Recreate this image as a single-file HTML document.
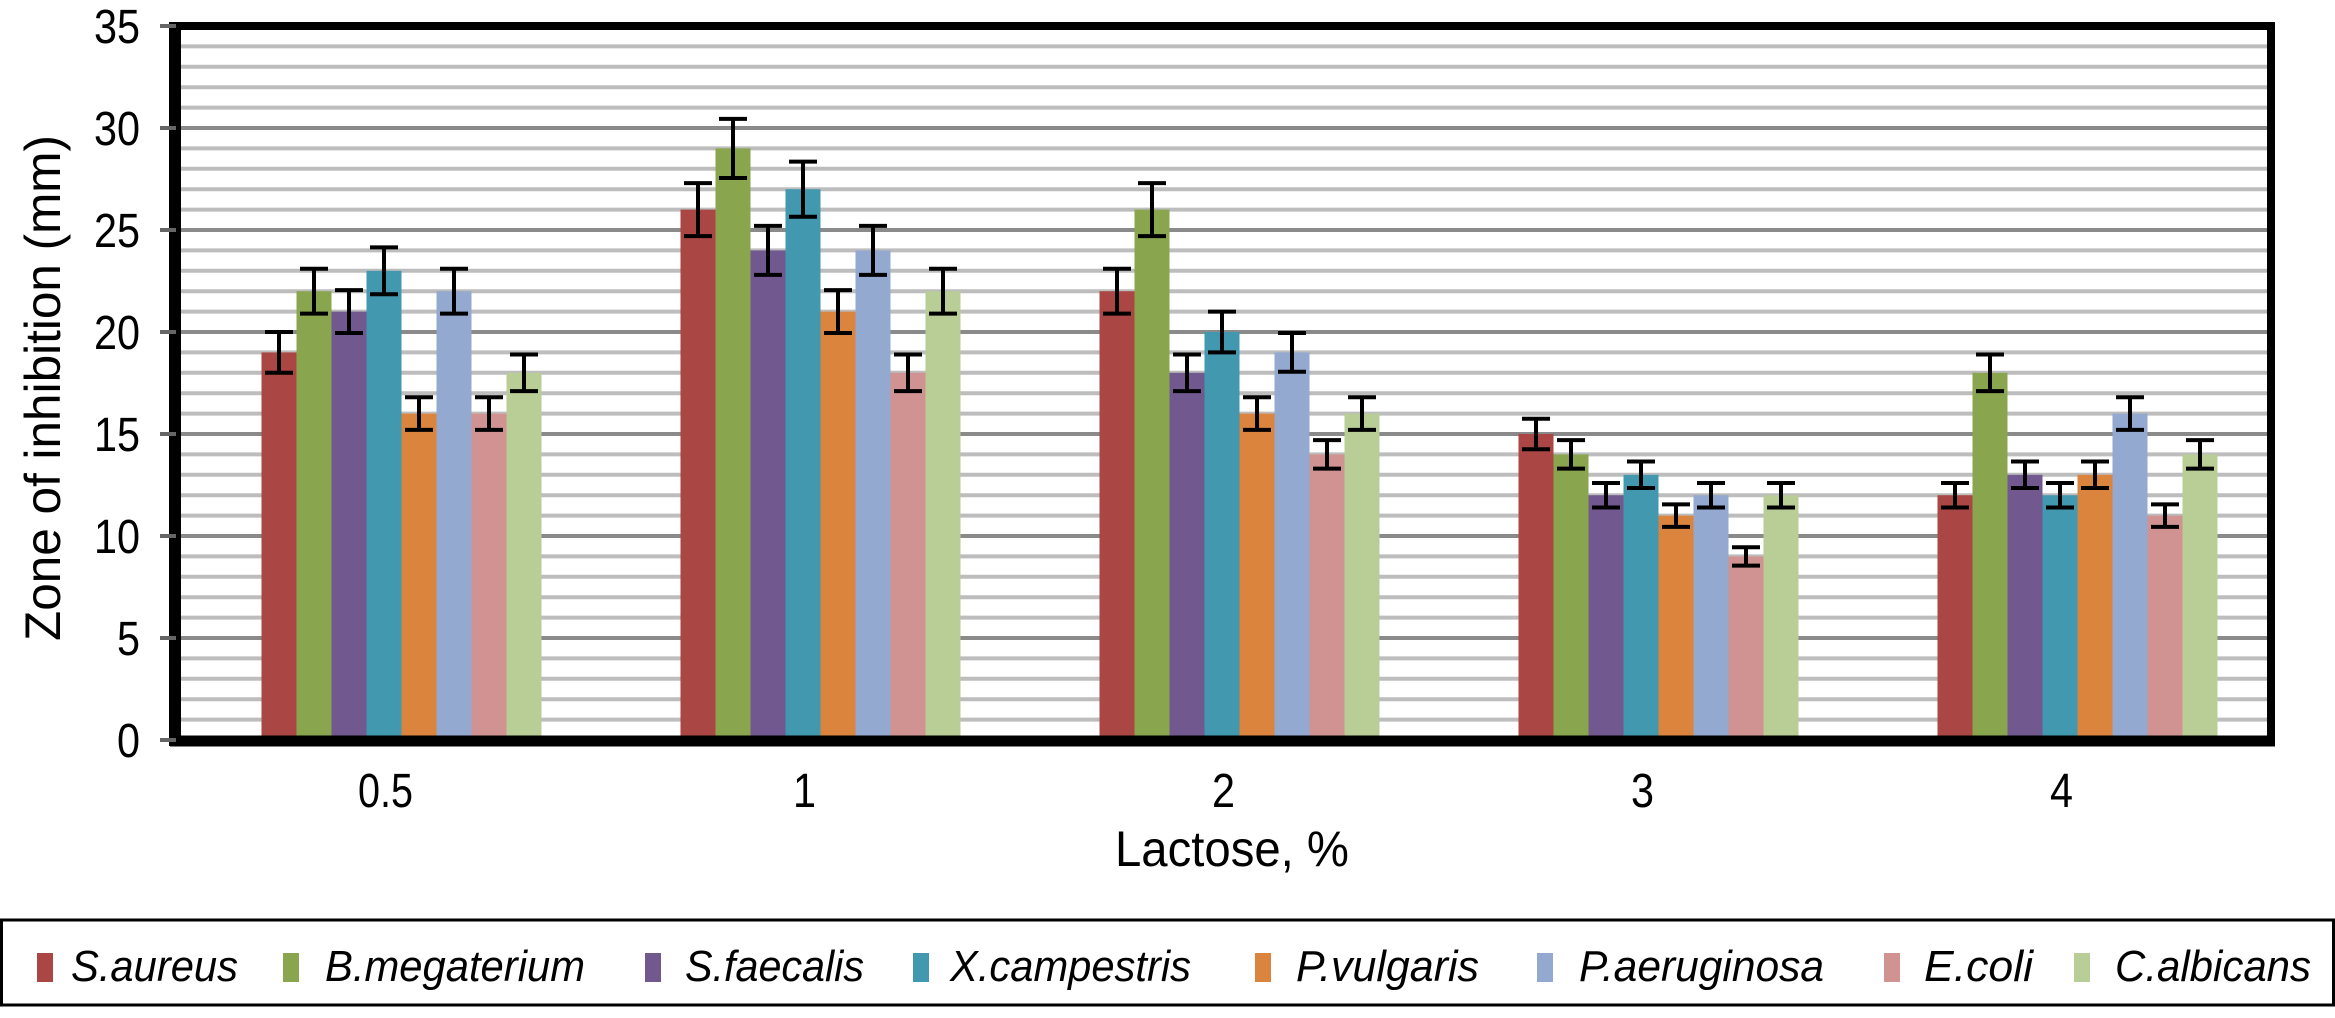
<!DOCTYPE html>
<html><head><meta charset="utf-8"><style>
html,body{margin:0;padding:0;background:#fff;}
svg{display:block;font-family:"Liberation Sans",Arial,sans-serif;}
</style></head><body>
<svg id="chart" width="2335" height="1018" viewBox="0 0 2335 1018" xmlns="http://www.w3.org/2000/svg">
<g id="grid"></g>
<g id="bars"></g>
<g id="errs"></g>
<g id="axes"></g>
<text x="1115" y="866" font-size="50" textLength="234" lengthAdjust="spacingAndGlyphs">Lactose, %</text>
<text transform="translate(60,388) rotate(-90)" font-size="50" text-anchor="middle" textLength="506" lengthAdjust="spacingAndGlyphs">Zone of inhibition (mm)</text>
<rect x="1.5" y="920" width="2332" height="85" fill="#fff" stroke="#000" stroke-width="3"/>
<g id="legend"></g>
</svg>
<script>
const categories = ["0.5","1","2","3","4"];
const seriesNames = ["S.aureus","B.megaterium","S.faecalis","X.campestris","P.vulgaris","P.aeruginosa","E.coli","C.albicans"];
const sAureus = [19,26,22,15,12];
const bMegaterium = [22,29,26,14,18];
const sFaecalis = [21,24,18,12,13];
const xCampestris = [23,27,20,13,12];
const pVulgaris = [16,21,16,11,13];
const pAeruginosa = [22,24,19,12,16];
const eColi = [16,18,14,9,11];
const cAlbicans = [18,22,16,12,14];
const errSAureus = [1.0,1.3,1.1,0.75,0.6];
const errBMegaterium = [1.1,1.45,1.3,0.7,0.9];
const errSFaecalis = [1.05,1.2,0.9,0.6,0.65];
const errXCampestris = [1.15,1.35,1.0,0.65,0.6];
const errPVulgaris = [0.8,1.05,0.8,0.55,0.65];
const errPAeruginosa = [1.1,1.2,0.95,0.6,0.8];
const errEColi = [0.8,0.9,0.7,0.45,0.55];
const errCAlbicans = [0.9,1.1,0.8,0.6,0.7];
const yTicks = [0,5,10,15,20,25,30,35];

const series = [sAureus,bMegaterium,sFaecalis,xCampestris,pVulgaris,pAeruginosa,eColi,cAlbicans];
const errs = [errSAureus,errBMegaterium,errSFaecalis,errXCampestris,errPVulgaris,errPAeruginosa,errEColi,errCAlbicans];
const colors = ["#AA4643","#89A54E","#71588F","#4198AF","#DB843D","#93A9CF","#D19392","#B9CD96"];
const NS="http://www.w3.org/2000/svg";
const L=176,R=2271,T=26,B=740,YMAX=35;
const y=v=>B-(v/YMAX)*(B-T);
const bandW=(R-L)/categories.length;
const xc=i=>L+bandW*(i+0.5);
const barW=35, barShift=16;
function mk(tag,attrs,parent){const e=document.createElementNS(NS,tag);for(const k in attrs)e.setAttribute(k,attrs[k]);parent.appendChild(e);return e;}
const grid=document.getElementById('grid'),bars=document.getElementById('bars'),eg=document.getElementById('errs'),axes=document.getElementById('axes'),leg=document.getElementById('legend');
for(let v=1;v<YMAX;v++){
  const ln=mk('line',{x1:L,x2:R,y1:y(v),y2:y(v),stroke:v%5===0?'#8a8a8a':'#bdbdbd','stroke-width':4},grid);
  
  
}
series.forEach((s,si)=>{
  s.forEach((v,ci)=>{
    const x=xc(ci)+barShift+(si-4)*barW;
    const r=mk('rect',{x:x,y:y(v),width:barW,height:B-y(v),fill:colors[si]},bars);
    
    
    const cx=x+barW/2,e=errs[si][ci];
    const g=mk('g',{stroke:'#000','stroke-width':4},eg);
    
    
    mk('line',{x1:cx,x2:cx,y1:y(v+e),y2:y(v-e)},g);
    mk('line',{x1:cx-14,x2:cx+14,y1:y(v+e),y2:y(v+e)},g);
    mk('line',{x1:cx-14,x2:cx+14,y1:y(v-e),y2:y(v-e)},g);
  });
});
const fr=mk('rect',{x:L,y:T,width:R-L,height:B-T,fill:'none',stroke:'#000','stroke-width':8},axes);


const xa=mk('line',{x1:L-6,x2:R+4,y1:B+1,y2:B+1,stroke:'#000','stroke-width':11},axes);


const ya=mk('line',{x1:L-1,x2:L-1,y1:T-4,y2:B+6,stroke:'#000','stroke-width':12},axes);


yTicks.forEach(v=>{
  const tk=mk('line',{x1:L-16,x2:L,y1:y(v),y2:y(v),stroke:'#666','stroke-width':4},axes);
  
  
  const s=String(v);
  const t=mk('text',{x:140-s.length*23,y:y(v)+17,'font-size':48,textLength:s.length*23,lengthAdjust:'spacingAndGlyphs'},axes);
  t.textContent=s;
  
  
});
categories.forEach((c,i)=>{
  const w=c.length===1?23:55;
  const t=mk('text',{x:xc(i)-w/2,y:807,'font-size':48,textLength:w,lengthAdjust:'spacingAndGlyphs'},axes);
  t.textContent=c;
  
  
});
const legSq=[37,283,645,913,1255,1537,1884,2074];
const legTx=[71,325,685,950,1296,1579,1924,2115];
const legW=[167,260,179,241,183,245,109,196];
seriesNames.forEach((n,i)=>{
  const g=mk('g',{},leg);
  
  
  mk('rect',{x:legSq[i],y:953,width:16,height:29,fill:colors[i]},g);
  const t=mk('text',{x:legTx[i],y:981,'font-size':44,'font-style':'italic',textLength:legW[i],lengthAdjust:'spacingAndGlyphs'},g);
  t.textContent=n;
});
</script>
</body></html>
